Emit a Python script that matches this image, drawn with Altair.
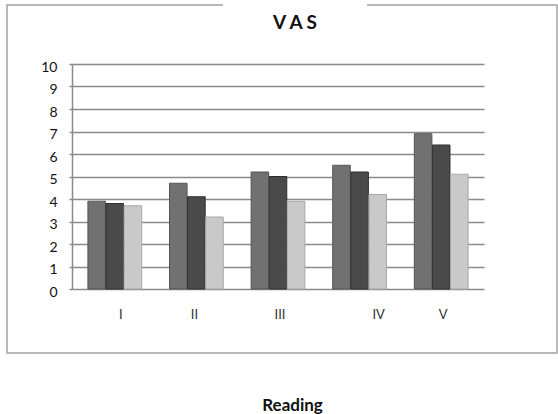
import altair as alt
import pandas as pd

# Data: three VAS series over five readings
readings = ["I", "II", "III", "IV", "V"]
series = ["Series 1", "Series 2", "Series 3"]
series1 = [3.9, 4.7, 5.2, 5.5, 6.9]
series2 = [3.8, 4.1, 5.0, 5.2, 6.4]
series3 = [3.7, 3.2, 3.9, 4.2, 5.1]
bar_fill = ["#717171", "#4a4a4a", "#c9c9c9"]
bar_stroke = ["#555555", "#2e2e2e", "#a9a9a9"]

rows = []
for vals, name in zip([series1, series2, series3], series):
    for r, v in zip(readings, vals):
        rows.append({"reading": r, "series": name, "value": v})
df = pd.DataFrame(rows)

FONT = "Lato"
W, H = 412, 225

# Frame around the whole chart
frame = alt.Chart(alt.Data(values=[{}])).mark_rect(
    filled=False, stroke="#a3a3a3", strokeWidth=1.5
).encode(
    x=alt.value(-65), x2=alt.value(485), y=alt.value(-59), y2=alt.value(289)
)

# White box behind the title, breaking the frame's top edge
title_box = alt.Chart(alt.Data(values=[{}])).mark_rect(fill="white").encode(
    x=alt.value(151), x2=alt.value(295), y=alt.value(-63), y2=alt.value(-45)
)

title_text = alt.Chart(alt.Data(values=[{"t": "V A S"}])).mark_text(
    font=FONT, fontSize=19, fontWeight="bold", color="#111111",
    align="center", baseline="alphabetic"
).encode(
    x=alt.value(223), y=alt.value(-35), text="t:N"
)

label_offsets = [
    {"test": "datum.value === 'I'", "value": 6},
    {"test": "datum.value === 'II'", "value": -2},
    {"test": "datum.value === 'IV'", "value": 19},
]

bars = alt.Chart(df).mark_bar(strokeWidth=1).encode(
    x=alt.X(
        "reading:N", sort=readings,
        scale=alt.Scale(paddingInner=0.341, paddingOuter=0.195),
        axis=alt.Axis(
            title="Reading", titleFont=FONT, titleFontSize=17, titleFontWeight="bold",
            titleColor="#111111", titleX=220, titleY=121, titleAlign="center",
            titleBaseline="alphabetic",
            labelAngle=0, labelFont=FONT, labelFontSize=13, labelColor="#333333",
            labelPadding=19,
            labelOffset={"condition": label_offsets, "value": 2},
            domain=False, ticks=False, grid=False,
        ),
    ),
    xOffset=alt.XOffset("series:N", sort=series, scale=alt.Scale(paddingInner=0.03)),
    y=alt.Y(
        "value:Q",
        scale=alt.Scale(domain=[0, 10], nice=False),
        axis=alt.Axis(
            title=None, values=list(range(11)), format="d",
            labelFont=FONT, labelFontSize=14, labelColor="#111111",
            labelPadding=12, labelOffset=3,
            tickSize=3, tickColor="#8a8a8a", tickWidth=1.5,
            domainColor="#8a8a8a", domainWidth=1.5,
            grid=True, gridColor="#8a8a8a", gridWidth=1.5,
        ),
    ),
    color=alt.Color("series:N", scale=alt.Scale(domain=series, range=bar_fill), legend=None),
    stroke=alt.Stroke("series:N", scale=alt.Scale(domain=series, range=bar_stroke), legend=None),
)

chart = alt.layer(frame, title_box, title_text, bars).properties(
    width=W, height=H,
    autosize=alt.AutoSizeParams(type="none"),
    padding={"left": 72, "top": 64, "right": 74, "bottom": 125},
    background="white",
).configure_view(stroke=None)

chart.save("out.html", embed_options={"renderer": "svg", "actions": False})
